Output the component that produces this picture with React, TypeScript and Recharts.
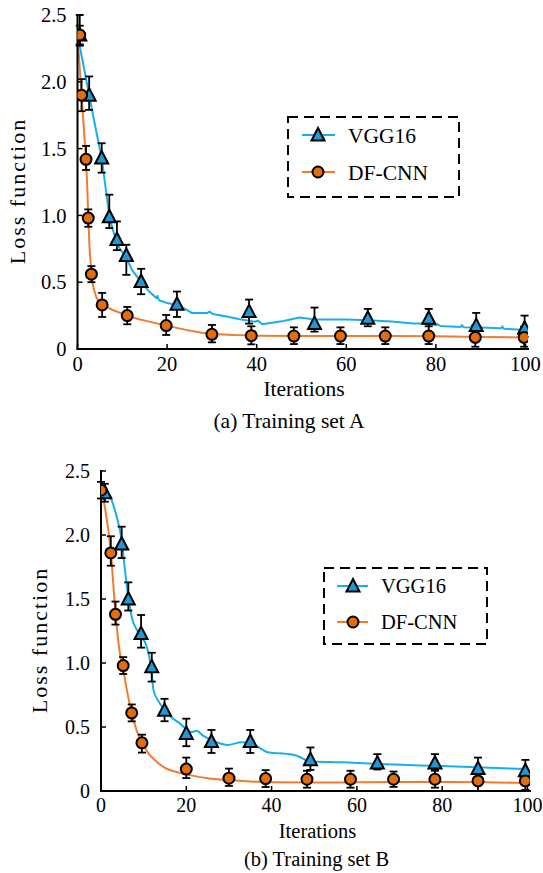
import React from 'react';
import { ComposedChart, Line, Scatter, XAxis, YAxis, ErrorBar, Legend } from 'recharts';

const FONT = '"Liberation Serif", "Times New Roman", Times, serif';
const BLUE_LINE = '#17B0EC';
const BLUE_FILL = '#1D9AD6';
const ORANGE_LINE = '#F07D2E';
const ORANGE_FILL = '#E36C0C';

const xTicks = [0, 20, 40, 60, 80, 100];
const yTicks = [0, 0.5, 1, 1.5, 2, 2.5];
const yTickLabels = ['0', '0.5', '1.0', '1.5', '2.0', '2.5'];
const seriesNames = ['VGG16', 'DF-CNN'];
const xLabel = 'Iterations';
const yLabel = 'Loss function';
const captions = ['(a) Training set A', '(b) Training set B'];

// ---- Panel A: curves [iteration, loss]
const aVggCurve: number[][] = [
  [0, 2.35], [1.3, 2.13], [2.6, 1.9], [4.0, 1.66], [5.4, 1.43], [6.3, 1.2], [7.1, 1.0], [7.8, 0.9],
  [8.8, 0.8], [9.3, 0.76], [10.9, 0.68], [12.2, 0.59], [14.2, 0.5], [16, 0.43], [17.5, 0.385],
  [17.8, 0.395], [18.2, 0.365], [20, 0.345], [22.2, 0.33], [24, 0.3], [25.5, 0.27], [29, 0.27],
  [29.5, 0.28], [30.2, 0.262], [33, 0.245], [36, 0.225], [39.5, 0.205], [40.3, 0.212], [41.2, 0.185],
  [43, 0.195], [46, 0.21], [49.5, 0.235], [53, 0.22], [60, 0.22], [65, 0.215], [70, 0.205],
  [75, 0.19], [78, 0.19], [80, 0.178], [80.4, 0.186], [81, 0.172], [85.5, 0.165], [85.8, 0.178],
  [86.2, 0.163], [90, 0.16], [94.5, 0.155], [94.8, 0.168], [95.2, 0.152], [100, 0.142],
];
const aDfCurve: number[][] = [
  [0, 2.35], [0.9, 1.9], [1.9, 1.42], [2.2, 1.2], [2.4, 0.98], [2.7, 0.75], [3.1, 0.56], [3.6, 0.45],
  [4.3, 0.38], [5.5, 0.33], [8, 0.29], [11.1, 0.25], [13.5, 0.225], [16, 0.205], [19.8, 0.175],
  [24, 0.145], [28, 0.12], [30, 0.112], [35, 0.104], [40, 0.1], [50, 0.097], [60, 0.097],
  [70, 0.097], [80, 0.095], [90, 0.09], [100, 0.087],
];
// ---- Panel A: markers [iteration, loss, errLow, errHigh]
const aVggMarks: number[][] = [
  [0.5, 2.35, 0.08, 0.15], [2.6, 1.9, 0.11, 0.14], [5.4, 1.43, 0.11, 0.11], [7.1, 0.99, 0.085, 0.165],
  [8.8, 0.82, 0.08, 0.135], [10.9, 0.7, 0.145, 0.08], [14.2, 0.505, 0.095, 0.095], [22.2, 0.335, 0.095, 0.095],
  [38.3, 0.28, 0.09, 0.09], [52.9, 0.19, 0.06, 0.12], [64.8, 0.23, 0.06, 0.07], [78.4, 0.23, 0.06, 0.07],
  [89, 0.175, 0.085, 0.095], [99.8, 0.155, 0.065, 0.095],
];
const aDfMarks: number[][] = [
  [0.5, 2.35, 0.07, 0.07], [0.9, 1.9, 0.12, 0.12], [1.9, 1.42, 0.08, 0.1], [2.4, 0.98, 0.065, 0.065],
  [3.1, 0.56, 0.06, 0.06], [5.5, 0.33, 0.09, 0.09], [11.1, 0.25, 0.065, 0.065], [19.8, 0.175, 0.07, 0.08],
  [30, 0.11, 0.06, 0.07], [38.8, 0.1, 0.065, 0.07], [48.3, 0.097, 0.06, 0.065], [58.7, 0.097, 0.06, 0.065],
  [68.7, 0.097, 0.06, 0.065], [78.4, 0.097, 0.06, 0.09], [88.8, 0.087, 0.07, 0.09], [99.7, 0.087, 0.07, 0.08],
];

// ---- Panel B: curves
const bVggCurve: number[][] = [
  [0.7, 2.34], [2.5, 2.27], [3.7, 2.14], [4.85, 1.96], [5.6, 1.73], [6.4, 1.52], [7.2, 1.36], [8.4, 1.26],
  [9.5, 1.2], [10.5, 1.15], [11.3, 1.05], [11.9, 0.92], [12.3, 0.79], [13.5, 0.7], [16, 0.59],
  [18.4, 0.53], [21.2, 0.46], [22.4, 0.47], [24, 0.43], [26.5, 0.39], [29.7, 0.36], [33, 0.38],
  [36.2, 0.355], [39.4, 0.3], [43.5, 0.29], [45.9, 0.276], [49.1, 0.23], [57.2, 0.224], [65.3, 0.21],
  [78.3, 0.197], [89.6, 0.184], [99.8, 0.171],
];
const bDfCurve: number[][] = [
  [0, 2.36], [1, 2.2], [2.3, 1.87], [3.4, 1.39], [4.4, 1.08], [5.2, 0.95], [6, 0.8], [7.2, 0.61],
  [8.4, 0.47], [9.6, 0.38], [11, 0.3], [13, 0.23], [15, 0.18], [17.5, 0.15], [20, 0.13], [25, 0.1],
  [30, 0.085], [35, 0.075], [40, 0.069], [50, 0.066], [60, 0.068], [70, 0.07], [80, 0.07],
  [90, 0.068], [100, 0.063],
];
const bVggMarks: number[][] = [
  [0.9, 2.33, 0.07, 0.07], [4.85, 1.93, 0.11, 0.135], [6.4, 1.5, 0.09, 0.13], [9.4, 1.23, 0.11, 0.145],
  [11.9, 0.97, 0.115, 0.11], [14.9, 0.63, 0.085, 0.09], [20, 0.45, 0.1, 0.115], [25.9, 0.387, 0.09, 0.09],
  [35, 0.387, 0.09, 0.09], [49.1, 0.245, 0.08, 0.095], [64.8, 0.218, 0.05, 0.07], [78.3, 0.218, 0.05, 0.07],
  [88.4, 0.176, 0.07, 0.085], [99.5, 0.158, 0.08, 0.085],
];
const bDfMarks: number[][] = [
  [0, 2.35, 0.065, 0.065], [2.3, 1.86, 0.1, 0.13], [3.4, 1.38, 0.08, 0.1], [5.2, 0.98, 0.066, 0.066],
  [7.2, 0.61, 0.066, 0.066], [9.6, 0.376, 0.076, 0.064], [20, 0.171, 0.07, 0.09], [30, 0.1, 0.06, 0.075],
  [38.6, 0.097, 0.066, 0.066], [48.3, 0.092, 0.066, 0.066], [58.5, 0.092, 0.066, 0.066],
  [68.6, 0.092, 0.06, 0.06], [78.3, 0.092, 0.066, 0.066], [88.4, 0.079, 0.08, 0.08], [99.5, 0.079, 0.07, 0.07],
];

const toCurve = (pts: number[][]) => pts.map(([x, y]) => ({ x, y }));
const toMarks = (pts: number[][]) => pts.map(([x, y, lo, hi]) => ({ x, y, err: [lo, hi] }));

const TriangleShape = (props: any) => {
  const { cx, cy } = props;
  if (cx == null || cy == null) return <g />;
  return (
    <polygon
      points={`${cx},${cy - 7} ${cx - 6.5},${cy + 5.5} ${cx + 6.5},${cy + 5.5}`}
      fill={BLUE_FILL}
      stroke="#000"
      strokeWidth={2}
    />
  );
};
const CircleShape = (props: any) => {
  const { cx, cy } = props;
  if (cx == null || cy == null) return <g />;
  return <circle cx={cx} cy={cy} r={5.5} fill={ORANGE_FILL} stroke="#000" strokeWidth={2} />;
};

type LegendLayout = { w: number; h: number; rows: number[]; lx1: number; lx2: number; mx: number; tx: number; fs: number };

const LegendBox = ({ w, h, rows, lx1, lx2, mx, tx, fs }: LegendLayout) => (
  <svg width={w + 4} height={h + 4} style={{ display: 'block', overflow: 'visible' }}>
    <rect x={2} y={2} width={w} height={h} fill="#fff" stroke="#000" strokeWidth={2} strokeDasharray="10 6" />
    {seriesNames.map((name, i) => {
      const y = rows[i] + 2;
      const isVgg = i === 0;
      return (
        <g key={name}>
          <line x1={lx1 + 2} x2={lx2 + 2} y1={y} y2={y} stroke={isVgg ? BLUE_LINE : ORANGE_LINE} strokeWidth={2} />
          {isVgg ? <TriangleShape cx={mx + 2} cy={y} /> : <CircleShape cx={mx + 2} cy={y} />}
          <text x={tx + 2} y={y} dy="0.35em" fontSize={fs} fontFamily={FONT} fill="#000">
            {name}
          </text>
        </g>
      );
    })}
  </svg>
);

type PanelProps = {
  top: number;
  height: number;
  margin: { top: number; right: number; bottom: number; left: number };
  xMax: number;
  curveType: 'linear' | 'monotone';
  vggCurve: number[][];
  dfCurve: number[][];
  vggMarks: number[][];
  dfMarks: number[][];
  legendPos: { left: number; top: number };
  legend: LegendLayout;
  tickFs: number;
};

const Panel = (p: PanelProps) => (
  <div style={{ position: 'absolute', left: 0, top: p.top, width: 543, height: p.height }}>
    <ComposedChart width={543} height={p.height} margin={p.margin} style={{ fontFamily: FONT }}>
      <XAxis
        type="number"
        dataKey="x"
        domain={[0, p.xMax]}
        ticks={xTicks}
        height={30}
        tickSize={-5}
        tickMargin={12}
        axisLine={{ stroke: '#000', strokeWidth: 2, strokeLinecap: 'square' }}
        tickLine={{ stroke: '#000', strokeWidth: 1.5 }}
        tick={{ fill: '#000', fontSize: p.tickFs, fontFamily: FONT }}
        allowDataOverflow
      />
      <YAxis
        type="number"
        dataKey="y"
        domain={[0, 2.5]}
        ticks={yTicks}
        width={50}
        tickSize={-5}
        tickMargin={16}
        tickFormatter={(v: number) => yTickLabels[yTicks.indexOf(v)] ?? String(v)}
        axisLine={{ stroke: '#000', strokeWidth: 2, strokeLinecap: 'square' }}
        tickLine={{ stroke: '#000', strokeWidth: 1.5 }}
        tick={{ fill: '#000', fontSize: p.tickFs, fontFamily: FONT }}
        allowDataOverflow
      />
      <Line
        data={toCurve(p.vggCurve)}
        dataKey="y"
        type={p.curveType}
        stroke={BLUE_LINE}
        strokeWidth={2}
        dot={false}
        activeDot={false}
        isAnimationActive={false}
        name={seriesNames[0]}
      />
      <Line
        data={toCurve(p.dfCurve)}
        dataKey="y"
        type={p.curveType}
        stroke={ORANGE_LINE}
        strokeWidth={2}
        dot={false}
        activeDot={false}
        isAnimationActive={false}
        name={seriesNames[1]}
      />
      <Scatter data={toMarks(p.vggMarks)} dataKey="y" shape={TriangleShape} isAnimationActive={false}>
        <ErrorBar dataKey="err" direction="y" width={4} stroke="#000" strokeWidth={1.8} isAnimationActive={false} />
      </Scatter>
      <Scatter data={toMarks(p.dfMarks)} dataKey="y" shape={CircleShape} isAnimationActive={false}>
        <ErrorBar dataKey="err" direction="y" width={4} stroke="#000" strokeWidth={1.8} isAnimationActive={false} />
      </Scatter>
      <Legend
        layout="vertical"
        align="center"
        verticalAlign="middle"
        wrapperStyle={{ left: p.legendPos.left, top: p.legendPos.top, width: p.legend.w + 4, height: p.legend.h + 4 }}
        content={() => <LegendBox {...p.legend} />}
      />
    </ComposedChart>
  </div>
);

export default function App() {
  return (
    <div style={{ position: 'absolute', left: 0, top: 0, width: 543, height: 873, background: '#fff' }}>
      <Panel
        top={0}
        height={440}
        margin={{ top: 15, right: 15, bottom: 61, left: 27.5 }}
        xMax={100.56}
        curveType="linear"
        vggCurve={aVggCurve}
        dfCurve={aDfCurve}
        vggMarks={aVggMarks}
        dfMarks={aDfMarks}
        legendPos={{ left: 286, top: 115 }}
        legend={{ w: 171, h: 80, rows: [18, 55], lx1: 14, lx2: 47, mx: 30, tx: 60, fs: 21.5 }}
        tickFs={20.5}
      />
      <Panel
        top={440}
        height={433}
        margin={{ top: 31, right: 13, bottom: 52, left: 51 }}
        xMax={100.59}
        curveType="monotone"
        vggCurve={bVggCurve}
        dfCurve={bDfCurve}
        vggMarks={bVggMarks}
        dfMarks={bDfMarks}
        legendPos={{ left: 322, top: 126 }}
        legend={{ w: 163, h: 76, rows: [18, 54], lx1: 13, lx2: 44, mx: 29, tx: 57, fs: 20.5 }}
        tickFs={20}
      />
      <svg
        width={543}
        height={873}
        style={{ position: 'absolute', left: 0, top: 0, pointerEvents: 'none' }}
        fontFamily={FONT}
      >
        <text x={304} y={396} textAnchor="middle" fontSize={21.5} fill="#000">{xLabel}</text>
        <text x={289} y={428} textAnchor="middle" fontSize={21.5} fill="#000">{captions[0]}</text>
        <text x={317.5} y={838} textAnchor="middle" fontSize={20.5} fill="#000">{xLabel}</text>
        <text x={316.5} y={866} textAnchor="middle" fontSize={20.5} fill="#000">{captions[1]}</text>
        <text
          x={0}
          y={0}
          transform="translate(25,191) rotate(-90)"
          textAnchor="middle"
          fontSize={22}
          letterSpacing={2}
          fill="#000"
        >
          {yLabel}
        </text>
        <text
          x={0}
          y={0}
          transform="translate(47,640) rotate(-90)"
          textAnchor="middle"
          fontSize={22}
          letterSpacing={2}
          fill="#000"
        >
          {yLabel}
        </text>
      </svg>
    </div>
  );
}
